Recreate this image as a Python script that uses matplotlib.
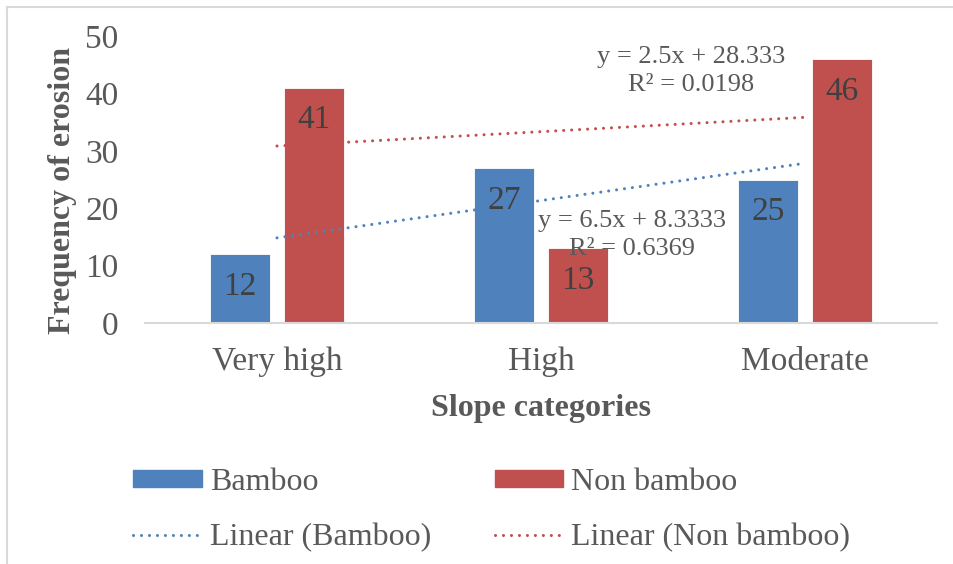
import numpy as np
import matplotlib
matplotlib.use("Agg")
import matplotlib.pyplot as plt
from matplotlib.lines import Line2D
from matplotlib.patches import Patch

categories = ["Very high", "High", "Moderate"]
bamboo = [12, 27, 25]
non_bamboo = [41, 13, 46]
yticks = [0, 10, 20, 30, 40, 50]

BLUE = "#4F81BD"
RED = "#C0504D"
TXT = "#595959"
GRID = "#D9D9D9"

plt.rcParams["font.family"] = ["Liberation Serif", "DejaVu Serif"]

W, H = 954, 564
fig = plt.figure(figsize=(W / 100, H / 100), dpi=100)
ax = fig.add_axes([145 / W, (H - 323) / H, 792 / W, 287 / H])

x = np.arange(len(categories))
bw = 0.224
off = 0.14
b1 = ax.bar(x - off, bamboo, bw, color=BLUE, edgecolor="white", linewidth=0.6, zorder=2)
b2 = ax.bar(x + off, non_bamboo, bw, color=RED, edgecolor="white", linewidth=0.6, zorder=2)

for rect, v in zip(b1, bamboo):
    ax.text(rect.get_x() + rect.get_width() / 2, v - 3.0, str(v), ha="center", va="top",
            fontsize=24, color="#404040", zorder=4)
for rect, v in zip(b2, non_bamboo):
    ax.text(rect.get_x() + rect.get_width() / 2, v - 3.0, str(v), ha="center", va="top",
            fontsize=24, color="#404040", zorder=4)

# Excel-style linear trendlines (x = 1..n)
xn = x + 1
dot = (0, (0.01, 2.6))
for vals, col in [(bamboo, BLUE), (non_bamboo, RED)]:
    m, c = np.polyfit(xn, vals, 1)
    ax.plot(x, m * xn + c, color=col, linestyle=dot, linewidth=2.2,
            dash_capstyle="round", zorder=3)

def r2(vals):
    m, c = np.polyfit(xn, vals, 1)
    pred = m * xn + c
    v = np.array(vals, float)
    return 1 - ((v - pred) ** 2).sum() / ((v - v.mean()) ** 2).sum(), m, c

rb, mb, cb = r2(bamboo)
rn, mn, cn = r2(non_bamboo)
fig.text(691 / W, 1 - 57 / H, f"y = {mn:.1f}x + {cn:.3f}", ha="center", va="center",
         fontsize=19, color=TXT)
fig.text(691 / W, 1 - 85 / H, f"R² = {rn:.4f}", ha="center", va="center",
         fontsize=19, color=TXT)
fig.text(632 / W, 1 - 221 / H, f"y = {mb:.1f}x + {cb:.4f}", ha="center", va="center",
         fontsize=19, color=TXT, zorder=5)
fig.text(632 / W, 1 - 249 / H, f"R² = {rb:.4f}", ha="center", va="center",
         fontsize=19, color=TXT, zorder=5)

ax.set_xlim(-0.5, 2.5)
ax.set_ylim(0, 50)
ax.set_yticks(yticks)
ax.set_yticklabels([str(t) for t in yticks])
ax.set_xticks(x)
ax.set_xticklabels(categories)
ax.tick_params(axis="both", length=0, labelsize=24, labelcolor=TXT)
ax.tick_params(axis="y", pad=19)
ax.tick_params(axis="x", pad=17)
for s in ["top", "right", "left"]:
    ax.spines[s].set_visible(False)
ax.spines["bottom"].set_color(GRID)
ax.spines["bottom"].set_linewidth(1.5)

ax.set_xlabel("Slope categories", fontsize=23, fontweight="bold", color=TXT, labelpad=12)
ax.set_ylabel("Frequency of erosion", fontsize=23, fontweight="bold", color=TXT)
ax.yaxis.set_label_coords((77 - 145) / 792, (323 - 190) / 287)

handles = [
    Patch(facecolor=BLUE, edgecolor=BLUE),
    Patch(facecolor=RED, edgecolor=RED),
    Line2D([0], [0], color=BLUE, linestyle=dot, linewidth=2.2, dash_capstyle="round"),
    Line2D([0], [0], color=RED, linestyle=dot, linewidth=2.2, dash_capstyle="round"),
]
labels = ["Bamboo", "Non bamboo", "Linear (Bamboo)", "Linear (Non bamboo)"]
order = [0, 2, 1, 3]
leg = fig.legend([handles[i] for i in order], [labels[i] for i in order], ncol=2,
                 loc="upper left", bbox_to_anchor=(133 / W, 1 - 468 / H),
                 borderpad=0, borderaxespad=0,
                 frameon=False, fontsize=23, labelcolor=TXT, handlelength=2.15,
                 handleheight=0.45, handletextpad=0.25, columnspacing=2.0,
                 labelspacing=0.82)

# outer chart border (cropped: only top and left visible)
fig.add_artist(Line2D([7 / W, 1], [1 - 7 / H, 1 - 7 / H], color=GRID, linewidth=1.5,
                      transform=fig.transFigure))
fig.add_artist(Line2D([7 / W, 7 / W], [0, 1 - 7 / H], color=GRID, linewidth=1.5,
                      transform=fig.transFigure))

fig.savefig("out.png", dpi=100)
